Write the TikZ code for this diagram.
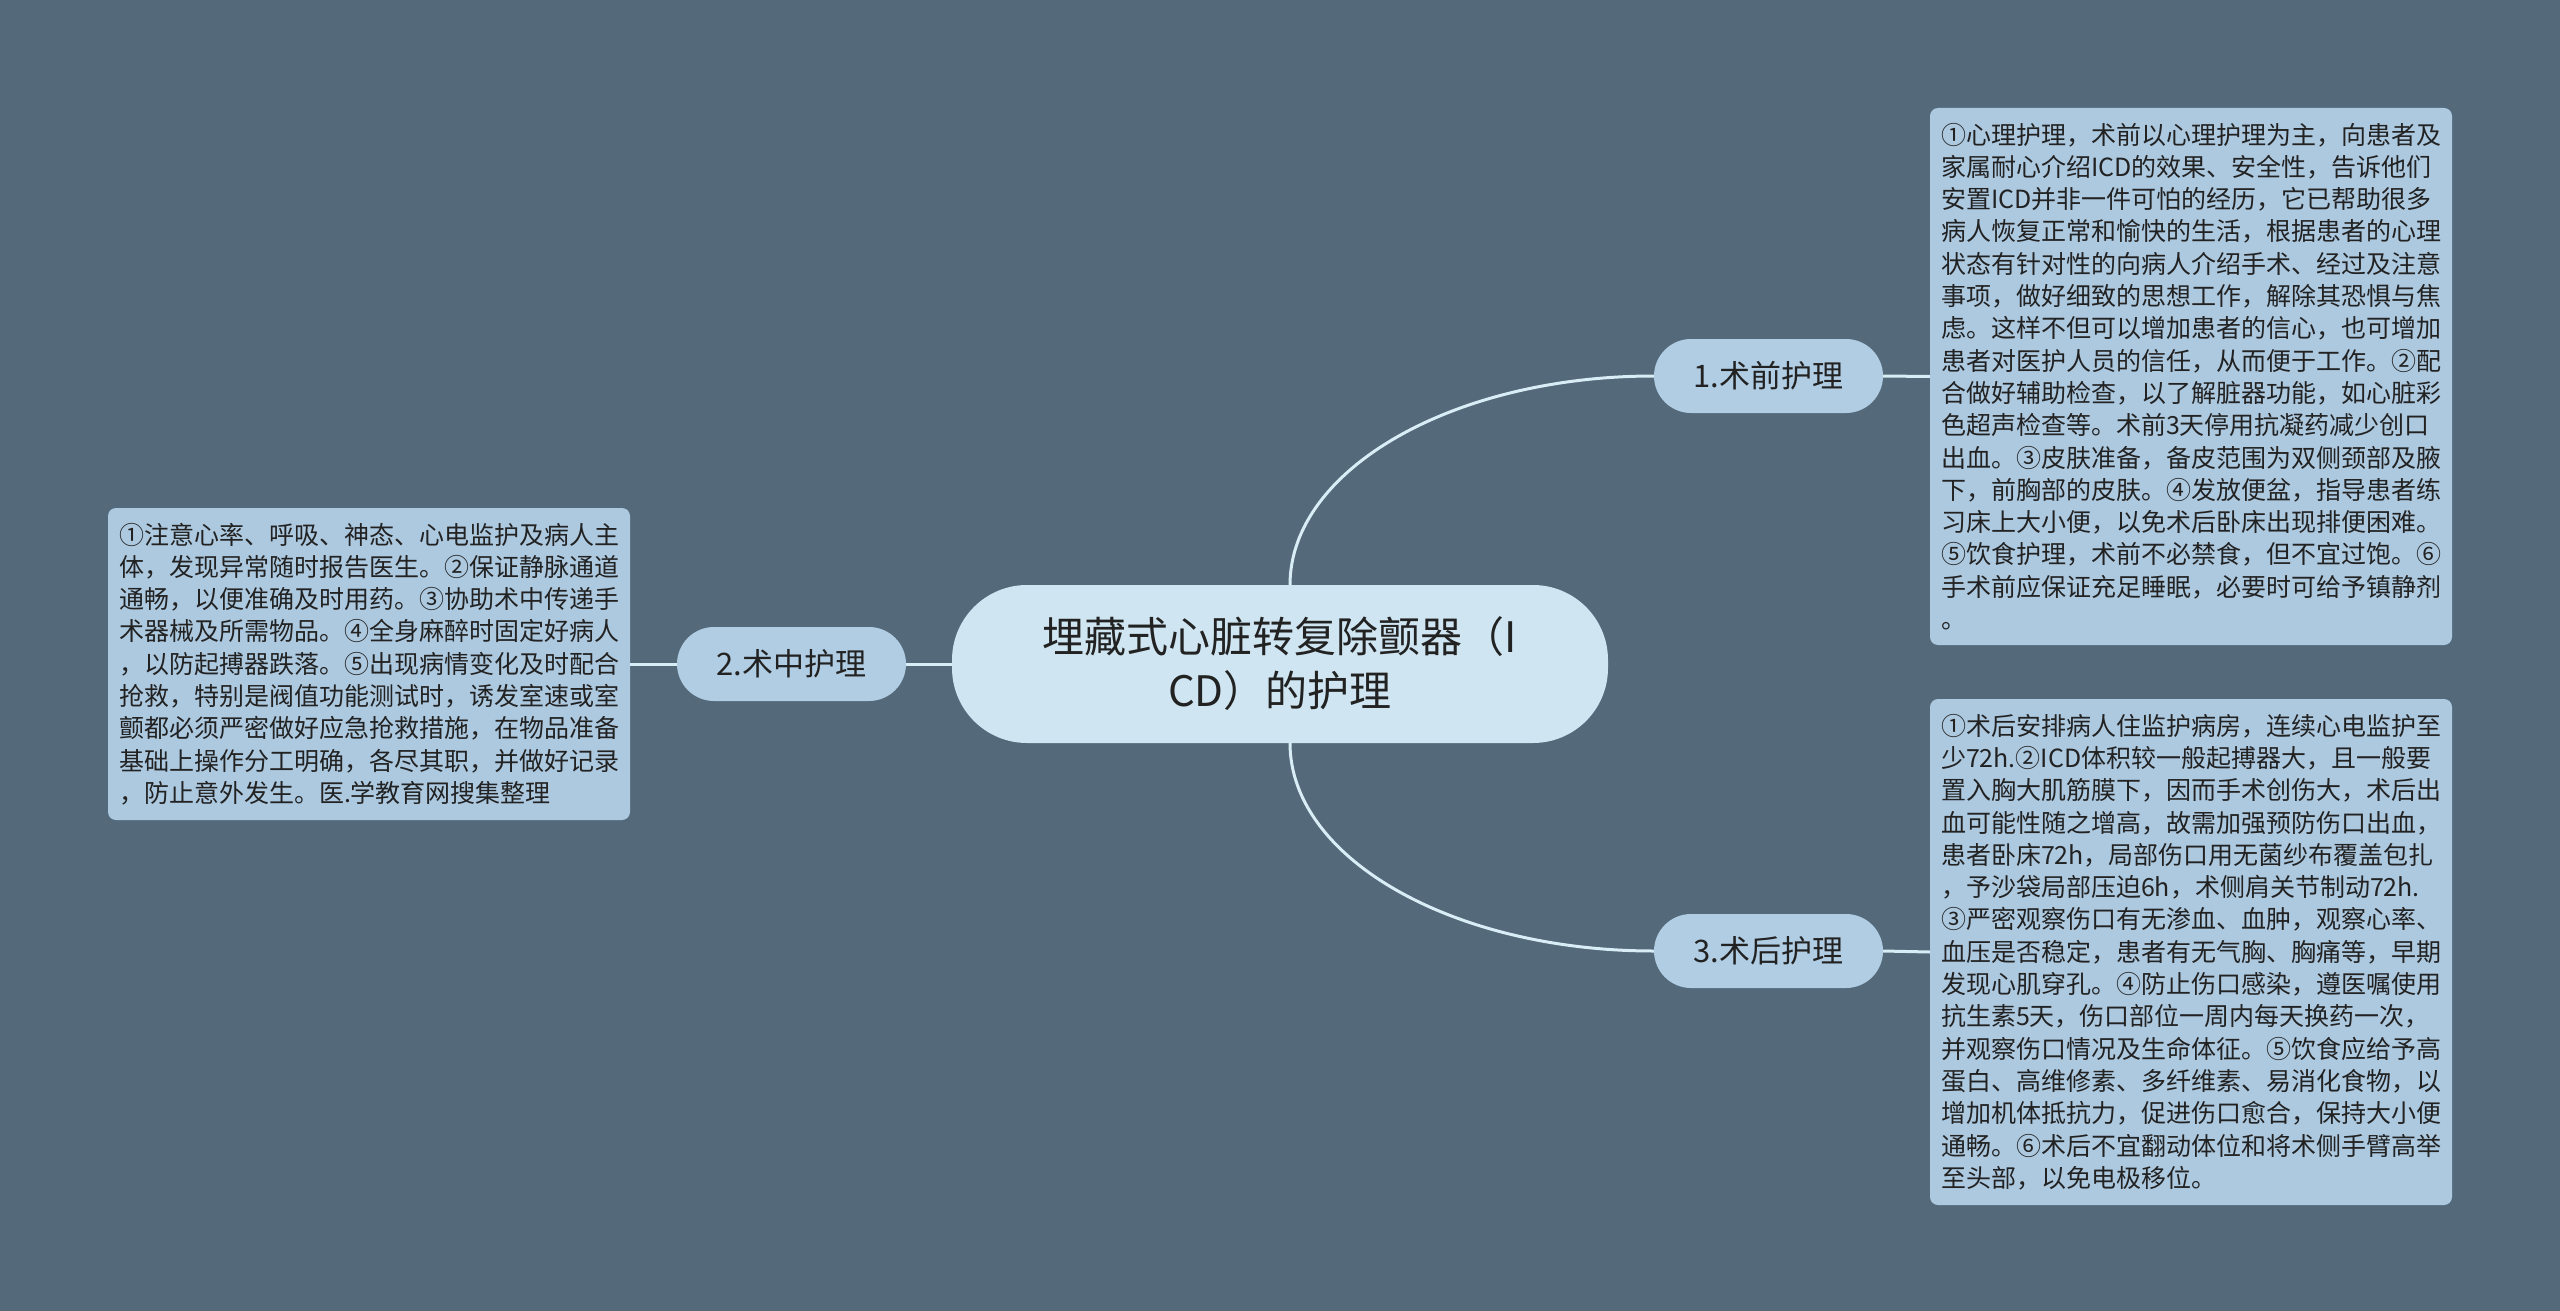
\documentclass[tikz,border=0pt]{standalone}
\usepackage{fontspec}
\setmainfont{Noto Sans CJK SC}
\definecolor{bgc}{HTML}{546979}
\definecolor{rootc}{HTML}{CFE5F1}
\definecolor{branchc}{HTML}{B0CDE3}
\definecolor{boxc}{HTML}{ADC9E0}
\definecolor{linec}{HTML}{D8EDF5}
\definecolor{txtc}{HTML}{222222}
\begin{document}
\begin{tikzpicture}[x=1pt,y=-1pt,
  rootnode/.style={fill=rootc, rounded corners=75pt, minimum width=656pt, minimum height=158pt, align=center, text=txtc, inner sep=0pt, font={\fontsize{42pt}{54pt}\selectfont}},
  branchnode/.style={fill=branchc, rounded corners=37pt, minimum width=229pt, minimum height=74pt, text=txtc, inner sep=0pt, font={\fontsize{31pt}{38pt}\selectfont}},
  boxnode/.style={fill=boxc, rounded corners=8pt, text width=500pt, inner xsep=11pt, inner ysep=0pt, align=left, text=txtc, font={\fontsize{25pt}{32.3pt}\selectfont}},
  conn/.style={draw=linec, line width=3pt}]
\fill[bgc] (0,0) rectangle (2560,1311);
\useasboundingbox (0,0) rectangle (2560,1311);

\node[rootnode] (c) at (1280,664) {埋藏式心脏转复除颤器（I\\CD）的护理};
\node[branchnode] (b1) at (1768.5,376) {1.术前护理};
\node[branchnode] (b2) at (791.5,664) {2.术中护理};
\node[branchnode] (b3) at (1768.5,951) {3.术后护理};

\node[boxnode, minimum height=537pt] (t1) at (2191,376.5) {①心理护理，术前以心理护理为主，向患者及\\
家属耐心介绍ICD的效果、安全性，告诉他们\\
安置ICD并非一件可怕的经历，它已帮助很多\\
病人恢复正常和愉快的生活，根据患者的心理\\
状态有针对性的向病人介绍手术、经过及注意\\
事项，做好细致的思想工作，解除其恐惧与焦\\
虑。这样不但可以增加患者的信心，也可增加\\
患者对医护人员的信任，从而便于工作。②配\\
合做好辅助检查，以了解脏器功能，如心脏彩\\
色超声检查等。术前3天停用抗凝药减少创口\\
出血。③皮肤准备，备皮范围为双侧颈部及腋\\
下，前胸部的皮肤。④发放便盆，指导患者练\\
习床上大小便，以免术后卧床出现排便困难。\\
⑤饮食护理，术前不必禁食，但不宜过饱。⑥\\
手术前应保证充足睡眠，必要时可给予镇静剂\\
。};

\node[boxnode, minimum height=312pt] (t2) at (369,664) {①注意心率、呼吸、神态、心电监护及病人主\\
体，发现异常随时报告医生。②保证静脉通道\\
通畅，以便准确及时用药。③协助术中传递手\\
术器械及所需物品。④全身麻醉时固定好病人\\
，以防起搏器跌落。⑤出现病情变化及时配合\\
抢救，特别是阀值功能测试时，诱发室速或室\\
颤都必须严密做好应急抢救措施，在物品准备\\
基础上操作分工明确，各尽其职，并做好记录\\
，防止意外发生。医.学教育网搜集整理};

\node[boxnode, minimum height=506pt] (t3) at (2191,952) {①术后安排病人住监护病房，连续心电监护至\\
少72h.②ICD体积较一般起搏器大，且一般要\\
置入胸大肌筋膜下，因而手术创伤大，术后出\\
血可能性随之增高，故需加强预防伤口出血，\\
患者卧床72h，局部伤口用无菌纱布覆盖包扎\\
，予沙袋局部压迫6h，术侧肩关节制动72h.\\
③严密观察伤口有无渗血、血肿，观察心率、\\
血压是否稳定，患者有无气胸、胸痛等，早期\\
发现心肌穿孔。④防止伤口感染，遵医嘱使用\\
抗生素5天，伤口部位一周内每天换药一次，\\
并观察伤口情况及生命体征。⑤饮食应给予高\\
蛋白、高维修素、多纤维素、易消化食物，以\\
增加机体抵抗力，促进伤口愈合，保持大小便\\
通畅。⑥术后不宜翻动体位和将术侧手臂高举\\
至头部，以免电极移位。};

\draw[conn] ([xshift=10pt]c.north) .. controls +(0,-115) and +(-201,0) .. (b1.west);
\draw[conn] ([xshift=10pt]c.south) .. controls +(0,115) and +(-201,0) .. (b3.west);
\draw[conn] (c.west) -- (b2.east);
\draw[conn] (b2.west) -- (t2.east);
\draw[conn] (b1.east) -- (t1.west);
\draw[conn] (b3.east) -- (t3.west);
\end{tikzpicture}
\end{document}
